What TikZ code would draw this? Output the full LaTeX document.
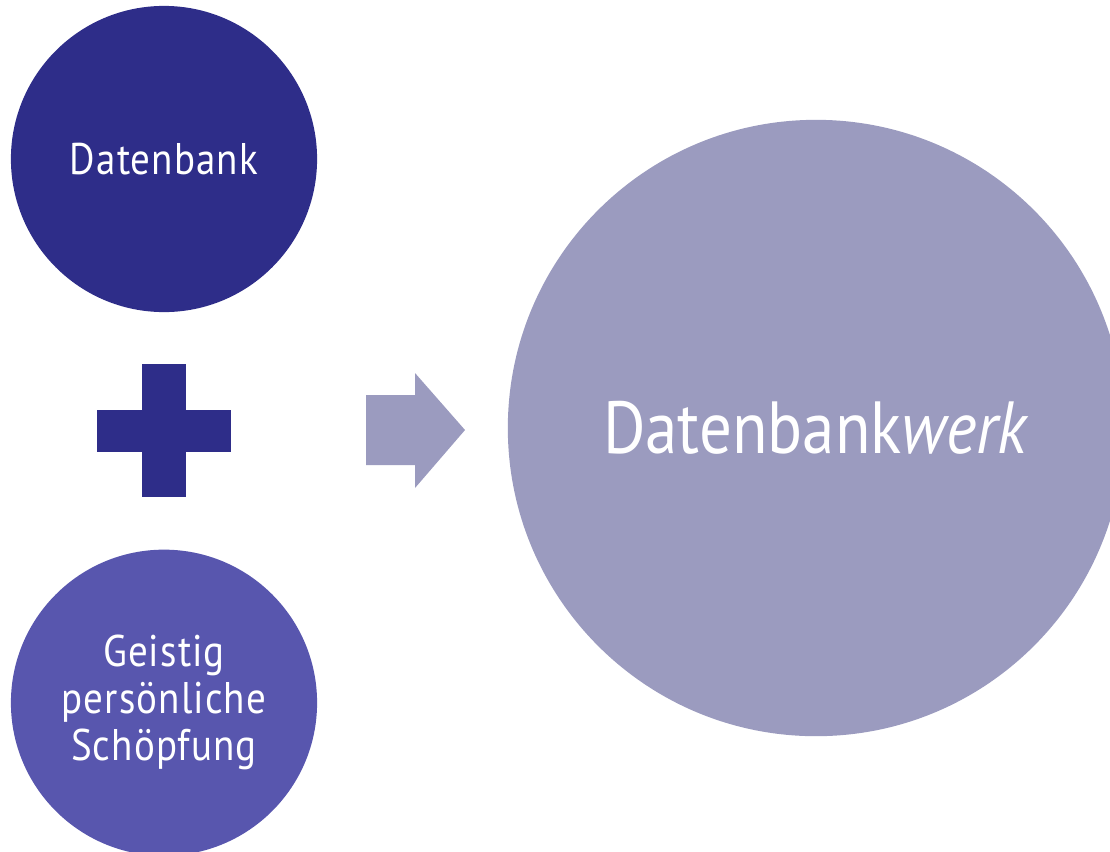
\documentclass[tikz,border=0pt]{standalone}
\usepackage{fontspec}
\setmainfont{PT Sans}[FakeStretch=0.88]
\usetikzlibrary{positioning}
\usetikzlibrary{calc}

\definecolor{dbnavy}{RGB}{46,45,137}
\definecolor{dbviolet}{RGB}{88,86,174}
\definecolor{dblav}{RGB}{155,155,191}

\tikzset{
  blob/.style={circle, inner sep=0pt, text=white, align=center},
  smalltxt/.style={font=\fontsize{12.6}{13.4}\selectfont\addfontfeature{LetterSpace=2.5}},
  bar/.style={fill=dbnavy, inner sep=0pt},
}

\begin{document}
\begin{tikzpicture}[x=0.01cm, y=-0.01cm]
  \useasboundingbox (0,0) rectangle (1110,851);
  \clip (0,0) rectangle (1110,851);

  % left column
  \node[blob, smalltxt, fill=dbnavy, minimum size=3.06cm] (db) at (164,159) {Datenbank}; %
  \node[blob, smalltxt, fill=dbviolet, minimum size=3.06cm, below=2.36cm of db] (gps) {Geistig\\persönliche\\Schöpfung}; %

  % plus
  \coordinate (plus) at ($(db)!0.5!(gps)$); %
  \node[bar, minimum width=1.33cm, minimum height=0.42cm] (plus-h) at (plus) {}; %
  \node[bar, minimum width=0.43cm, minimum height=1.33cm] (plus-v) at (plus) {}; %

  % result
  \node[blob, fill=dblav, minimum size=6.16cm, font=\fontsize{21}{25}\selectfont] (dbw) at (816,428) {Datenbank\textit{werk}}; %

  % arrow
  \coordinate (arr) at (366,430); %
  \fill[dblav] (arr) ++(0,-35) -- ++(49,0) -- ++(0,-22) -- ++(50,57) -- ++(-50,58) -- ++(0,-23) -- ++(-49,0) -- cycle; %

\end{tikzpicture}
\end{document}
